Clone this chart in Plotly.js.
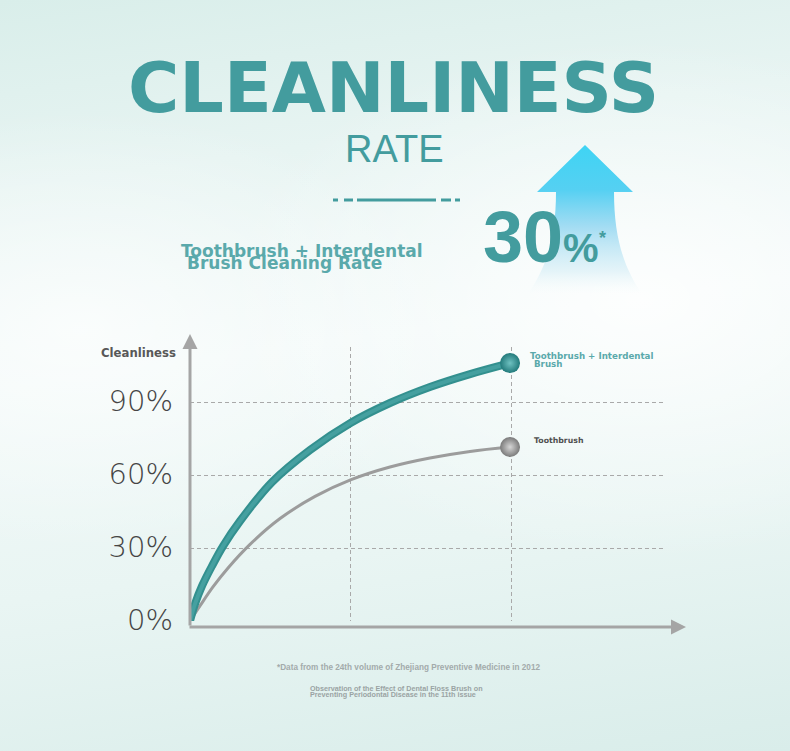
<!DOCTYPE html>
<html>
<head>
<meta charset="utf-8">
<script src="https://cdn.plot.ly/plotly-3.0.1.min.js"></script>
<style>
  html, body { margin:0; padding:0; }
  body {
    width:790px; height:751px; overflow:hidden;
    background:
      radial-gradient(ellipse 420px 260px at 640px 300px, rgba(255,255,255,0.85), rgba(255,255,255,0) 100%),
      radial-gradient(ellipse 380px 220px at 80px 330px, rgba(255,255,255,0.7), rgba(255,255,255,0) 100%),
      linear-gradient(172deg, #d9eeea 0%, #e7f4f2 22%, #f1f9f8 45%, #e9f5f3 70%, #d9edea 100%);
  }
  #chart { width:790px; height:751px; }
</style>
</head>
<body>
<div id="chart"></div>
<script>
// ---------------- data ----------------
const tealName = 'Toothbrush + Interdental Brush';
const grayName = 'Toothbrush';
const tealX = [0, 0.031, 0.075, 0.137, 0.206, 0.312, 0.511, 0.748, 1.0, 1.246, 1.495, 1.745, 1.994];
const tealY = [0, 7.0, 14.4, 22.6, 30.8, 41.1, 57.1, 70.3, 81.4, 89.6, 96.2, 101.5, 106.0];
const grayX = [0, 0.062, 0.143, 0.237, 0.374, 0.561, 0.779, 1.0, 1.246, 1.495, 1.745, 1.994];
const grayY = [0, 6.2, 14.0, 21.8, 31.5, 42.1, 51.2, 58.0, 63.3, 67.0, 69.7, 71.5];
const yTickVals = [0, 30, 60, 90];
const yTickText = ['0%', '30%', '60%', '90%'];
const yGridVals = [30, 60, 90];
const xGridVals = [1, 2];
const yAxisTitle = 'Cleanliness';
const headline = 'CLEANLINESS';
const subHeadline = 'RATE';
const bigValue = '30';
const bigUnit = '%';
const bigStar = '*';
const captionLine1 = 'Toothbrush + Interdental';
const captionLine2 = 'Brush Cleaning Rate';
const tealLabel1 = 'Toothbrush + Interdental';
const tealLabel2 = 'Brush';
const grayLabel = 'Toothbrush';
const foot1 = '*Data from the 24th volume of Zhejiang Preventive Medicine in 2012';
const foot2 = 'Observation of the Effect of Dental Floss Brush on';
const foot3 = 'Preventing Periodontal Disease in the 11th issue';

// ---------------- layout helpers ----------------
const W = 790, H = 751;
const M = {l:190, r:125, t:347, b:130};
const PW = W - M.l - M.r, PH = H - M.t - M.b;
const X_PX_PER_UNIT = 160.5, Y_PX_PER_UNIT = 2.433;
const px = x => (x - M.l) / PW;
const py = y => (H - M.b - y) / PH;
const TEAL = '#439c9e';
const TEAL_LIGHT = '#5aa9ab';
const AXIS = '#a5a5a5';
const GRID = '#a9a9a9';

function ann(text, x, y, font, xanchor, yanchor) {
  return {text:text, xref:'paper', yref:'paper', x:px(x), y:py(y),
    xanchor:xanchor||'left', yanchor:yanchor||'middle', showarrow:false,
    font:font, borderpad:0};
}

const annotations = [
  ann(headline, 393, 88, {family:'DejaVu Sans', size:70, weight:'bold', color:TEAL}, 'center'),
  ann(subHeadline, 394, 149, {family:'Liberation Sans', size:38, color:TEAL}, 'center'),
  ann(bigValue, 482, 237, {family:'Liberation Sans', size:72, weight:'bold', color:TEAL}, 'left'),
  ann(bigUnit, 562, 248, {family:'Liberation Sans', size:40, weight:'bold', color:TEAL}, 'left'),
  ann(bigStar, 598, 238, {family:'Liberation Sans', size:18, weight:'bold', color:TEAL}, 'left'),
  ann(captionLine1, 180, 251, {family:'DejaVu Sans', size:17, weight:'bold', color:TEAL_LIGHT}, 'left'),
  ann(captionLine2, 186, 263, {family:'DejaVu Sans', size:17, weight:'bold', color:TEAL_LIGHT}, 'left'),
  ann(yAxisTitle, 100, 353, {family:'DejaVu Sans', size:11.7, weight:'bold', color:'#585858'}, 'left'),
  ann(tealLabel1, 529, 356, {family:'DejaVu Sans', size:8.7, weight:'bold', color:TEAL_LIGHT}, 'left'),
  ann(tealLabel2, 533, 364, {family:'DejaVu Sans', size:8.7, weight:'bold', color:TEAL_LIGHT}, 'left'),
  ann(grayLabel, 533, 440, {family:'DejaVu Sans', size:7.8, weight:'bold', color:'#505050'}, 'left'),
  ann(foot1, 408, 667, {family:'Liberation Sans', size:8.2, weight:'bold', color:'#a3abab'}, 'center'),
  ann(foot2, 309, 688, {family:'Liberation Sans', size:7.2, weight:'bold', color:'#9aa3a3'}, 'left'),
  ann(foot3, 309, 694, {family:'Liberation Sans', size:7.2, weight:'bold', color:'#9aa3a3'}, 'left'),
  // axis arrows
  {xref:'paper', yref:'paper', x:px(190), y:py(334), ax:0, ay:293, axref:'pixel', ayref:'pixel',
   text:'', showarrow:true, arrowhead:2, arrowsize:1, arrowwidth:3, arrowcolor:AXIS, standoff:0, startstandoff:0},
  {xref:'paper', yref:'paper', x:px(686), y:py(627), ax:-498, ay:0, axref:'pixel', ayref:'pixel',
   text:'', showarrow:true, arrowhead:2, arrowsize:1, arrowwidth:3, arrowcolor:AXIS, standoff:0, startstandoff:0}
];

// decorative separator under the headline
const sepSegs = [[333,338],[344,353],[357,436],[441,451],[455,460]];
const shapes = sepSegs.map(s => ({type:'line', xref:'paper', yref:'paper',
  x0:px(s[0]), x1:px(s[1]), y0:py(200), y1:py(200), line:{color:TEAL, width:3}}));

// decorative arrow behind "30%"
const arrowSvg = '<svg xmlns="http://www.w3.org/2000/svg" width="130" height="160" viewBox="520 140 130 160">' +
  '<defs><linearGradient id="g" x1="0" y1="0" x2="0" y2="1">' +
  '<stop offset="0" stop-color="#3fd4f4"/>' +
  '<stop offset="0.3" stop-color="#55d0f2"/>' +
  '<stop offset="0.55" stop-color="#9ad9f2" stop-opacity="0.9"/>' +
  '<stop offset="0.85" stop-color="#d6eef6" stop-opacity="0.6"/>' +
  '<stop offset="1" stop-color="#f0f9fa" stop-opacity="0"/>' +
  '</linearGradient></defs>' +
  '<path d="M585,145 L633,192 L614,192 C614,238 624,268 642,294 L528,294 C546,268 556,238 556,192 L537,192 Z" fill="url(#g)"/>' +
  '</svg>';

const images = [{
  source: 'data:image/svg+xml;charset=utf-8,' + encodeURIComponent(arrowSvg),
  xref:'paper', yref:'paper', x:px(520), y:py(140), sizex:130/PW, sizey:160/PH,
  xanchor:'left', yanchor:'top', sizing:'stretch', layer:'below'
}];

const traces = [
  {x:[], y:[], yaxis:'y2', mode:'lines', hoverinfo:'skip', showlegend:false},
  {x:grayX, y:grayY, name:grayName, mode:'lines', line:{color:'#9c9c9c', width:3, shape:'spline', smoothing:1}, hoverinfo:'skip'},
  {x:tealX, y:tealY, name:tealName, mode:'lines', line:{color:'#33908f', width:8, shape:'spline', smoothing:1}, hoverinfo:'skip'},
  {x:tealX, y:tealY, name:tealName, mode:'lines', line:{color:'#45a0a0', width:4, shape:'spline', smoothing:1}, hoverinfo:'skip'},
  {x:[grayX[grayX.length-1]], y:[grayY[grayY.length-1]], name:grayName, mode:'markers',
   marker:{size:20, color:'#7a7a7a', gradient:{type:'radial', color:'#d6d6d6'}}, hoverinfo:'skip'},
  {x:[tealX[tealX.length-1]], y:[tealY[tealY.length-1]], name:tealName, mode:'markers',
   marker:{size:20, color:'#227a7b', gradient:{type:'radial', color:'#6fc1c1'}}, hoverinfo:'skip'}
];

const yRange = [0, PH / Y_PX_PER_UNIT];
const layout = {
  width:W, height:H, margin:M,
  paper_bgcolor:'rgba(0,0,0,0)', plot_bgcolor:'rgba(0,0,0,0)',
  showlegend:false,
  xaxis:{range:[0, PW / X_PX_PER_UNIT], tickvals:xGridVals, showticklabels:false, ticks:'',
    showgrid:true, gridcolor:GRID, gridwidth:1, griddash:'4px,3px',
    zeroline:false, showline:false, fixedrange:true},
  yaxis:{range:yRange, tickvals:yTickVals, ticktext:yTickText, ticks:'',
    showgrid:false, zeroline:false, showline:false, fixedrange:true,
    ticklabelstandoff:16, ticklabelshift:-1,
    tickfont:{family:'DejaVu Sans', size:29, weight:300, color:'#454545'}},
  yaxis2:{range:yRange, overlaying:'y', side:'left', tickvals:yGridVals, showticklabels:false, ticks:'',
    showgrid:true, gridcolor:GRID, gridwidth:1, griddash:'4px,3px',
    zeroline:false, showline:false, fixedrange:true},
  annotations:annotations, shapes:shapes, images:images
};

Plotly.newPlot('chart', traces, layout, {displayModeBar:false, staticPlot:true});
</script>
</body>
</html>
